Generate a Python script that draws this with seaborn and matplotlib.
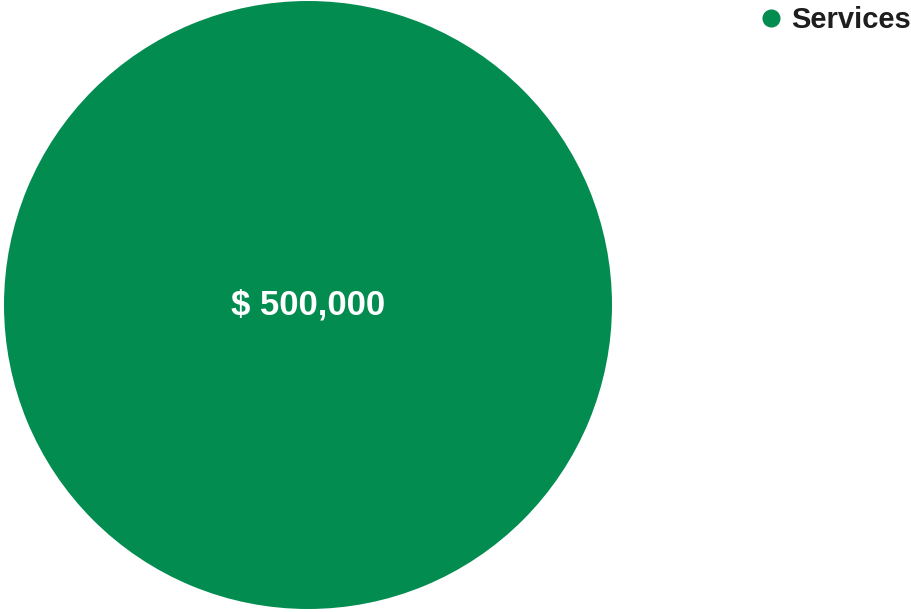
import matplotlib
matplotlib.use("Agg")
import matplotlib.pyplot as plt
from matplotlib.lines import Line2D
import seaborn as sns

categories = ["Services"]
values = [500000]
colors = ["#038C50"]

sns.set_theme(style="white")
plt.rcParams['font.family'] = ['Liberation Sans', 'DejaVu Sans']

W, H = 911, 612
fig = plt.figure(figsize=(W / 100, H / 100), dpi=100)
cx, cy, r = 308, 305, 304
ax = fig.add_axes([(cx - r) / W, (H - cy - r) / H, 2 * r / W, 2 * r / H])
ax.pie(values, colors=colors, radius=1, startangle=90, counterclock=False,
       wedgeprops=dict(linewidth=0))
ax.set_xlim(-1, 1)
ax.set_ylim(-1, 1)
ax.set_aspect('equal')
ax.axis('off')
for v in values:
    ax.text(0, 0, f"$ {v:,}", ha='center', va='center', color='white',
            fontsize=25, fontweight='bold')

handles = [Line2D([0], [0], marker='o', linestyle='', markersize=12,
                  markerfacecolor=c, markeredgecolor=c) for c in colors]
fig.legend(handles, categories, loc='upper right', bbox_to_anchor=(1.003, 0.995),
           frameon=False, prop=dict(size=21, weight='bold'), handletextpad=0.2,
           handlelength=1.0, borderaxespad=0.0, borderpad=0.1,
           labelcolor='#1e1e1e')

fig.savefig("out.png", dpi=100)
